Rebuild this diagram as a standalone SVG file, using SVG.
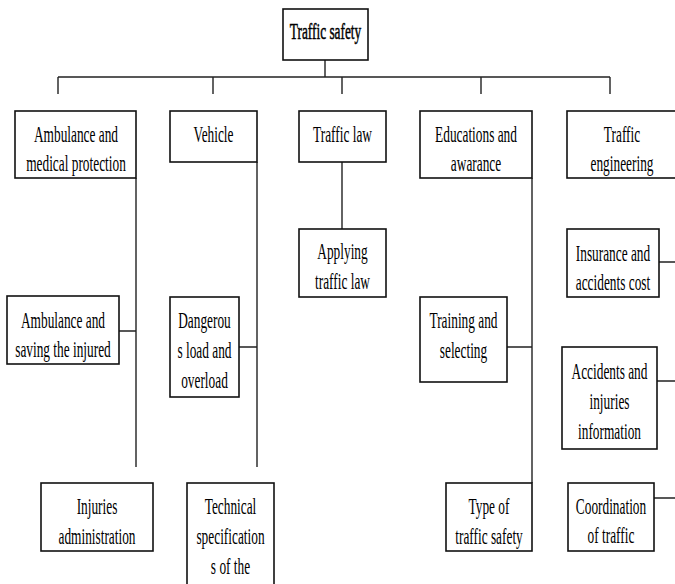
<svg xmlns="http://www.w3.org/2000/svg" width="675" height="584" viewBox="0 0 675 584">
<style>
.box{fill:#fff;stroke:#111;stroke-width:1.6}
.ln{fill:none;stroke:#222;stroke-width:1.4}
.t{font-family:"Liberation Serif","Times New Roman",serif;font-size:23px;fill:#000;text-anchor:middle}
.b{stroke:#000;stroke-width:0.5}
</style>
<rect x="0" y="0" width="675" height="584" fill="#fff"/>
<g id="connectors" class="ln">
<path d="M325 60V77M58 77H610M58 77V94M213 77V94M342 77V94M481 77V94M610 77V94"/>
<path d="M136 178V467M119 331H136"/>
<path d="M257 162V467M239 347H257"/>
<path d="M342 162V229"/>
<path d="M532 178V483M507 347H532"/>
<path d="M659 262H675M653 381H675M654 498H675"/>
</g>
<g id="n-traffic-safety"><rect class="box" x="283" y="9" width="85" height="51"/><text class="t b" transform="translate(325.5,38.5) scale(0.58,1)">Traffic safety</text></g>
<g id="n-ambulance-medical"><rect class="box" x="15" y="111" width="121" height="67"/><text class="t" transform="translate(76,141.5) scale(0.58,1)"><tspan x="0">Ambulance and</tspan><tspan x="0" dy="30">medical protection</tspan></text></g>
<g id="n-vehicle"><rect class="box" x="170" y="111" width="87" height="51"/><text class="t" transform="translate(213.5,141.5) scale(0.58,1)">Vehicle</text></g>
<g id="n-traffic-law"><rect class="box" x="299" y="111" width="87" height="51"/><text class="t" transform="translate(342.5,141.5) scale(0.58,1)">Traffic law</text></g>
<g id="n-educations"><rect class="box" x="420" y="111" width="112" height="67"/><text class="t" transform="translate(476,141.5) scale(0.58,1)"><tspan x="0">Educations and</tspan><tspan x="0" dy="30">awarance</tspan></text></g>
<g id="n-traffic-engineering"><rect class="box" x="567" y="111" width="110" height="67"/><text class="t" transform="translate(622,141.5) scale(0.58,1)"><tspan x="0">Traffic</tspan><tspan x="0" dy="30">engineering</tspan></text></g>
<g id="n-applying-law"><rect class="box" x="299" y="229" width="87" height="68"/><text class="t" transform="translate(342.5,259) scale(0.58,1)"><tspan x="0">Applying</tspan><tspan x="0" dy="30">traffic law</tspan></text></g>
<g id="n-ambulance-saving"><rect class="box" x="7" y="296" width="112" height="68"/><text class="t" transform="translate(63,328) scale(0.58,1)"><tspan x="0">Ambulance and</tspan><tspan x="0" dy="29">saving the injured</tspan></text></g>
<g id="n-dangerous-load"><rect class="box" x="170" y="297" width="69" height="100"/><text class="t" transform="translate(204.5,328) scale(0.58,1)"><tspan x="0">Dangerou</tspan><tspan x="0" dy="30">s load and</tspan><tspan x="0" dy="30">overload</tspan></text></g>
<g id="n-training"><rect class="box" x="420" y="297" width="87" height="85"/><text class="t" transform="translate(463.5,328) scale(0.58,1)"><tspan x="0">Training and</tspan><tspan x="0" dy="30">selecting</tspan></text></g>
<g id="n-insurance"><rect class="box" x="567" y="229" width="92" height="68"/><text class="t" transform="translate(613,261) scale(0.58,1)"><tspan x="0">Insurance and</tspan><tspan x="0" dy="29">accidents cost</tspan></text></g>
<g id="n-accidents-info"><rect class="box" x="562" y="347" width="95" height="102"/><text class="t" transform="translate(609.5,379) scale(0.58,1)"><tspan x="0">Accidents and</tspan><tspan x="0" dy="30">injuries</tspan><tspan x="0" dy="30">information</tspan></text></g>
<g id="n-injuries-admin"><rect class="box" x="41" y="483" width="112" height="68"/><text class="t" transform="translate(97,514) scale(0.58,1)"><tspan x="0">Injuries</tspan><tspan x="0" dy="30">administration</tspan></text></g>
<g id="n-technical"><rect class="box" x="187" y="483" width="87" height="103"/><text class="t" transform="translate(230.5,514) scale(0.58,1)"><tspan x="0">Technical</tspan><tspan x="0" dy="30">specification</tspan><tspan x="0" dy="30">s of the</tspan></text></g>
<g id="n-type-safety"><rect class="box" x="446" y="483" width="86" height="68"/><text class="t" transform="translate(489,514) scale(0.58,1)"><tspan x="0">Type of</tspan><tspan x="0" dy="30">traffic safety</tspan></text></g>
<g id="n-coordination"><rect class="box" x="568" y="483" width="86" height="68"/><text class="t" transform="translate(611,514) scale(0.58,1)"><tspan x="0">Coordination</tspan><tspan x="0" dy="29">of traffic</tspan></text></g>
</svg>
